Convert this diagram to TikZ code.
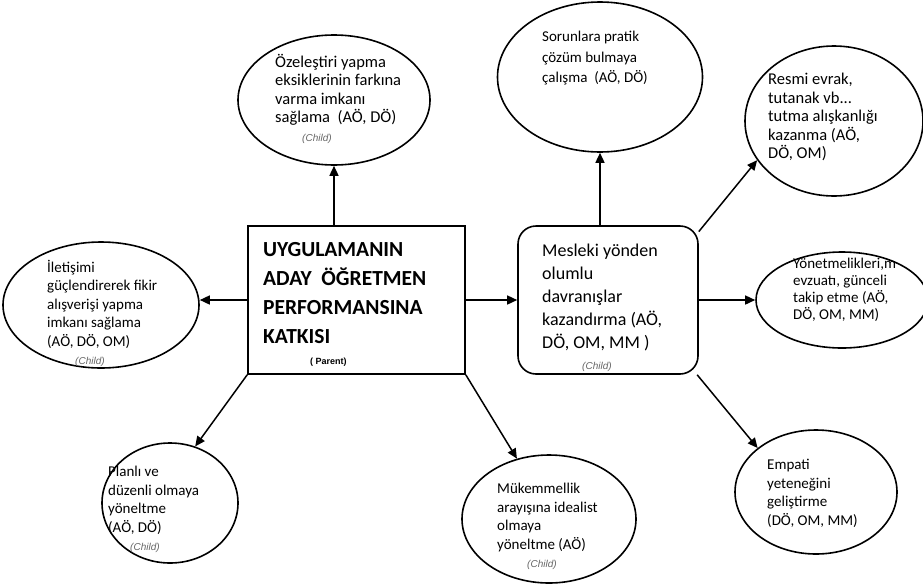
\documentclass[tikz,border=0pt]{standalone}
\usepackage{fontspec}
\setmainfont{Carlito}
\newfontfamily\tagfont{Liberation Sans}
\usetikzlibrary{arrows.meta,shapes.geometric}

\newcommand{\childtag}{{\tagfont\itshape\fontsize{10}{12}\selectfont\color{black!60}(Child)}}

\tikzset{
	bubble/.style={draw=black, ellipse, line width=1.6pt, inner sep=0pt},
	bubbletext/.style={anchor=north west, align=left, inner sep=0pt, font=\fontsize{15}{18.5}\selectfont},
	link/.style={-{Triangle[length=10pt,width=9pt]}, line width=1.5pt},
}

\begin{document}
\begin{tikzpicture}[x=1pt, y=-1pt]
	\useasboundingbox (0,0) rectangle (923,584);

	% parent box
	\node[draw, line width=1.6pt, minimum width=217pt, minimum height=148pt, inner sep=0pt] (parent) at (356.5,300) {};
	\node[anchor=north west, align=left, inner sep=0pt, font=\fontsize{21.5}{29}\selectfont\bfseries] (parenttext) at (263,242)
		{UYGULAMANIN\\ADAY~ ÖĞRETMEN\\PERFORMANSINA\\KATKISI};
	\node[anchor=west, inner sep=0pt, font=\tagfont\bfseries\fontsize{9}{11}\selectfont] (parenttag) at (310,362) {( Parent)};

	% child box
	\node[draw, line width=1.6pt, rounded corners=18pt, minimum width=180pt, minimum height=148pt, inner sep=0pt] (child) at (608,300) {};
	\node[anchor=north west, align=left, inner sep=0pt, font=\fontsize{18}{23}\selectfont] (childtext) at (542,244)
		{Mesleki yönden\\olumlu\\davranışlar\\kazandırma (AÖ,\\DÖ, OM, MM )};
	\node[anchor=west, inner sep=0pt] (childtag) at (582,367) {\childtag};

	% ellipses
	\node[bubble, minimum width=192pt, minimum height=130pt] (ozel) at (334,100) {};
	\node[bubbletext, font=\fontsize{16.5}{18.5}\selectfont] (ozeltext) at (275,54)
		{Özeleştiri yapma\\eksiklerinin farkına\\varma imkanı\\sağlama~ (AÖ, DÖ)\\\hspace*{27pt}\childtag};

	\node[bubble, minimum width=205pt, minimum height=150pt] (sorun) at (600,77) {};
	\node[bubbletext, font=\fontsize{15}{20.5}\selectfont] (soruntext) at (542,31)
		{Sorunlara pratik\\çözüm bulmaya\\çalışma~ (AÖ, DÖ)};

	\node[bubble, minimum width=178pt, minimum height=150pt] (resmi) at (834,121) {};
	\node[bubbletext, font=\fontsize{16.5}{18.5}\selectfont] (resmitext) at (768,73)
		{Resmi evrak,\\tutanak vb...\\tutma alışkanlığı\\kazanma (AÖ,\\DÖ, OM)};

	\node[bubble, minimum width=172pt, minimum height=96pt] (yonet) at (842,300) {};
	\node[bubbletext, font=\fontsize{15}{17}\selectfont] (yonettext) at (793,258)
		{Yönetmelikleri,m\\evzuatı, günceli\\takip etme (AÖ,\\DÖ, OM, MM)};

	\node[bubble, minimum width=196pt, minimum height=126pt] (ilet) at (101,305) {};
	\node[bubbletext] (ilettext) at (47,260)
		{İletişimi\\güçlendirerek fikir\\alışverişi yapma\\imkanı sağlama\\(AÖ, DÖ, OM)\\\hspace*{28pt}\childtag};

	\node[bubble, minimum width=136pt, minimum height=120pt] (plan) at (170,503) {};
	\node[bubbletext] (plantext) at (108,466)
		{Planlı ve\\düzenli olmaya\\yöneltme\\(AÖ, DÖ)\\\hspace*{22pt}\childtag};

	\node[bubble, minimum width=174pt, minimum height=128pt] (mukem) at (549,519) {};
	\node[bubbletext] (mukemtext) at (497,483)
		{Mükemmellik\\arayışına idealist\\olmaya\\yöneltme (AÖ)\\\hspace*{30pt}\childtag};

	\node[bubble, minimum width=162pt, minimum height=124pt] (empati) at (816,492) {};
	\node[bubbletext] (empatitext) at (767,459)
		{Empati\\yeteneğini\\geliştirme\\(DÖ, OM, MM)};

	% connectors
	\draw[link] (parent.north -| ozel.south) -- (ozel.south);
	\draw[link] (parent.west) -- (parent.west -| ilet.east);
	\draw[link] (parent.east) -- (child.west);
	\draw[link] (parent.south west) -- (plan.66);
	\draw[link] (parent.south east) -- (mukem.118);
	\draw[link] (child.north -| sorun.south) -- (sorun.south);
	\draw[link] (child.37) -- (resmi.207);
	\draw[link] (child.east) -- (child.east -| yonet.west);
	\draw[link] (child.-40) -- (empati.143);

\end{tikzpicture}
\end{document}
